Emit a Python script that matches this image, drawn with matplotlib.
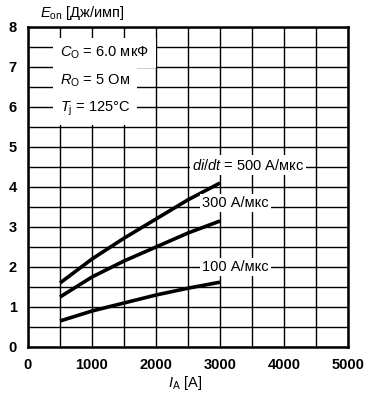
import matplotlib
matplotlib.use("Agg")
import matplotlib.pyplot as plt
import numpy as np

plt.rcParams['font.family'] = ['Liberation Sans', 'DejaVu Sans']
plt.rcParams['mathtext.fontset'] = 'custom'
plt.rcParams['mathtext.rm'] = 'Liberation Sans'
plt.rcParams['mathtext.it'] = 'Liberation Sans:italic'
plt.rcParams['mathtext.bf'] = 'Liberation Sans:bold'

# Data
current_A = [500, 1000, 1500, 2000, 2500, 3000]
eon_500 = [1.6, 2.2, 2.72, 3.2, 3.68, 4.1]
eon_300 = [1.25, 1.75, 2.15, 2.5, 2.85, 3.15]
eon_100 = [0.65, 0.9, 1.1, 1.3, 1.47, 1.62]
x_ticks = [0, 1000, 2000, 3000, 4000, 5000]
y_ticks = [0, 1, 2, 3, 4, 5, 6, 7, 8]

fig = plt.figure(figsize=(3.68, 3.96), dpi=100)
ax = fig.add_axes([28/368, 49/396, 320/368, 320/396])

ax.set_xlim(0, 5000)
ax.set_ylim(0, 8)
ax.set_xticks(x_ticks)
ax.set_yticks(y_ticks)
ax.set_xticks(np.arange(0, 5001, 500), minor=True)
ax.set_yticks(np.arange(0, 8.01, 0.5), minor=True)
ax.grid(True, which='both', color='black', linewidth=1.0)
ax.set_axisbelow(True)
ax.tick_params(which='both', length=0, labelsize=10.5, pad=8)
for lbl in ax.get_xticklabels() + ax.get_yticklabels():
    lbl.set_fontweight('bold')
for s in ax.spines.values():
    s.set_linewidth(1.8)

for y in (eon_500, eon_300, eon_100):
    ax.plot(current_A, y, color='black', linewidth=2.6, solid_capstyle='butt', zorder=3)

bb = dict(facecolor='white', edgecolor='none', pad=1.5)
bbl = dict(facecolor='white', edgecolor='none', pad=5)
fs = 10.5
ax.text(500, 7.35, r'$C_{\mathrm{O}}$ = 6.0 мкФ', fontsize=fs, va='center', ha='left', bbox=bbl, zorder=4)
ax.text(500, 6.65, r'$R_{\mathrm{O}}$ = 5 Ом', fontsize=fs, va='center', ha='left', bbox=bbl, zorder=4)
ax.text(500, 5.95, r'$T_{\mathrm{j}}$ = 125°C', fontsize=fs, va='center', ha='left', bbox=bbl, zorder=4)
ax.text(2560, 4.55, r'$di/dt$ = 500 А/мкс', fontsize=fs, va='center', ha='left', bbox=bb, zorder=4)
ax.text(2720, 3.6, '300 А/мкс', fontsize=fs, va='center', ha='left', bbox=bb, zorder=4)
ax.text(2720, 2.0, '100 А/мкс', fontsize=fs, va='center', ha='left', bbox=bb, zorder=4)

fig.text(40/368, 1 - 13/396, r'$E_{\mathrm{on}}$ [Дж/имп]', fontsize=fs, va='center', ha='left')
fig.text(185/368, 1 - 383/396, r'$I_{\mathrm{A}}$ [A]', fontsize=fs, va='center', ha='center')

fig.savefig('out.png', dpi=100)
